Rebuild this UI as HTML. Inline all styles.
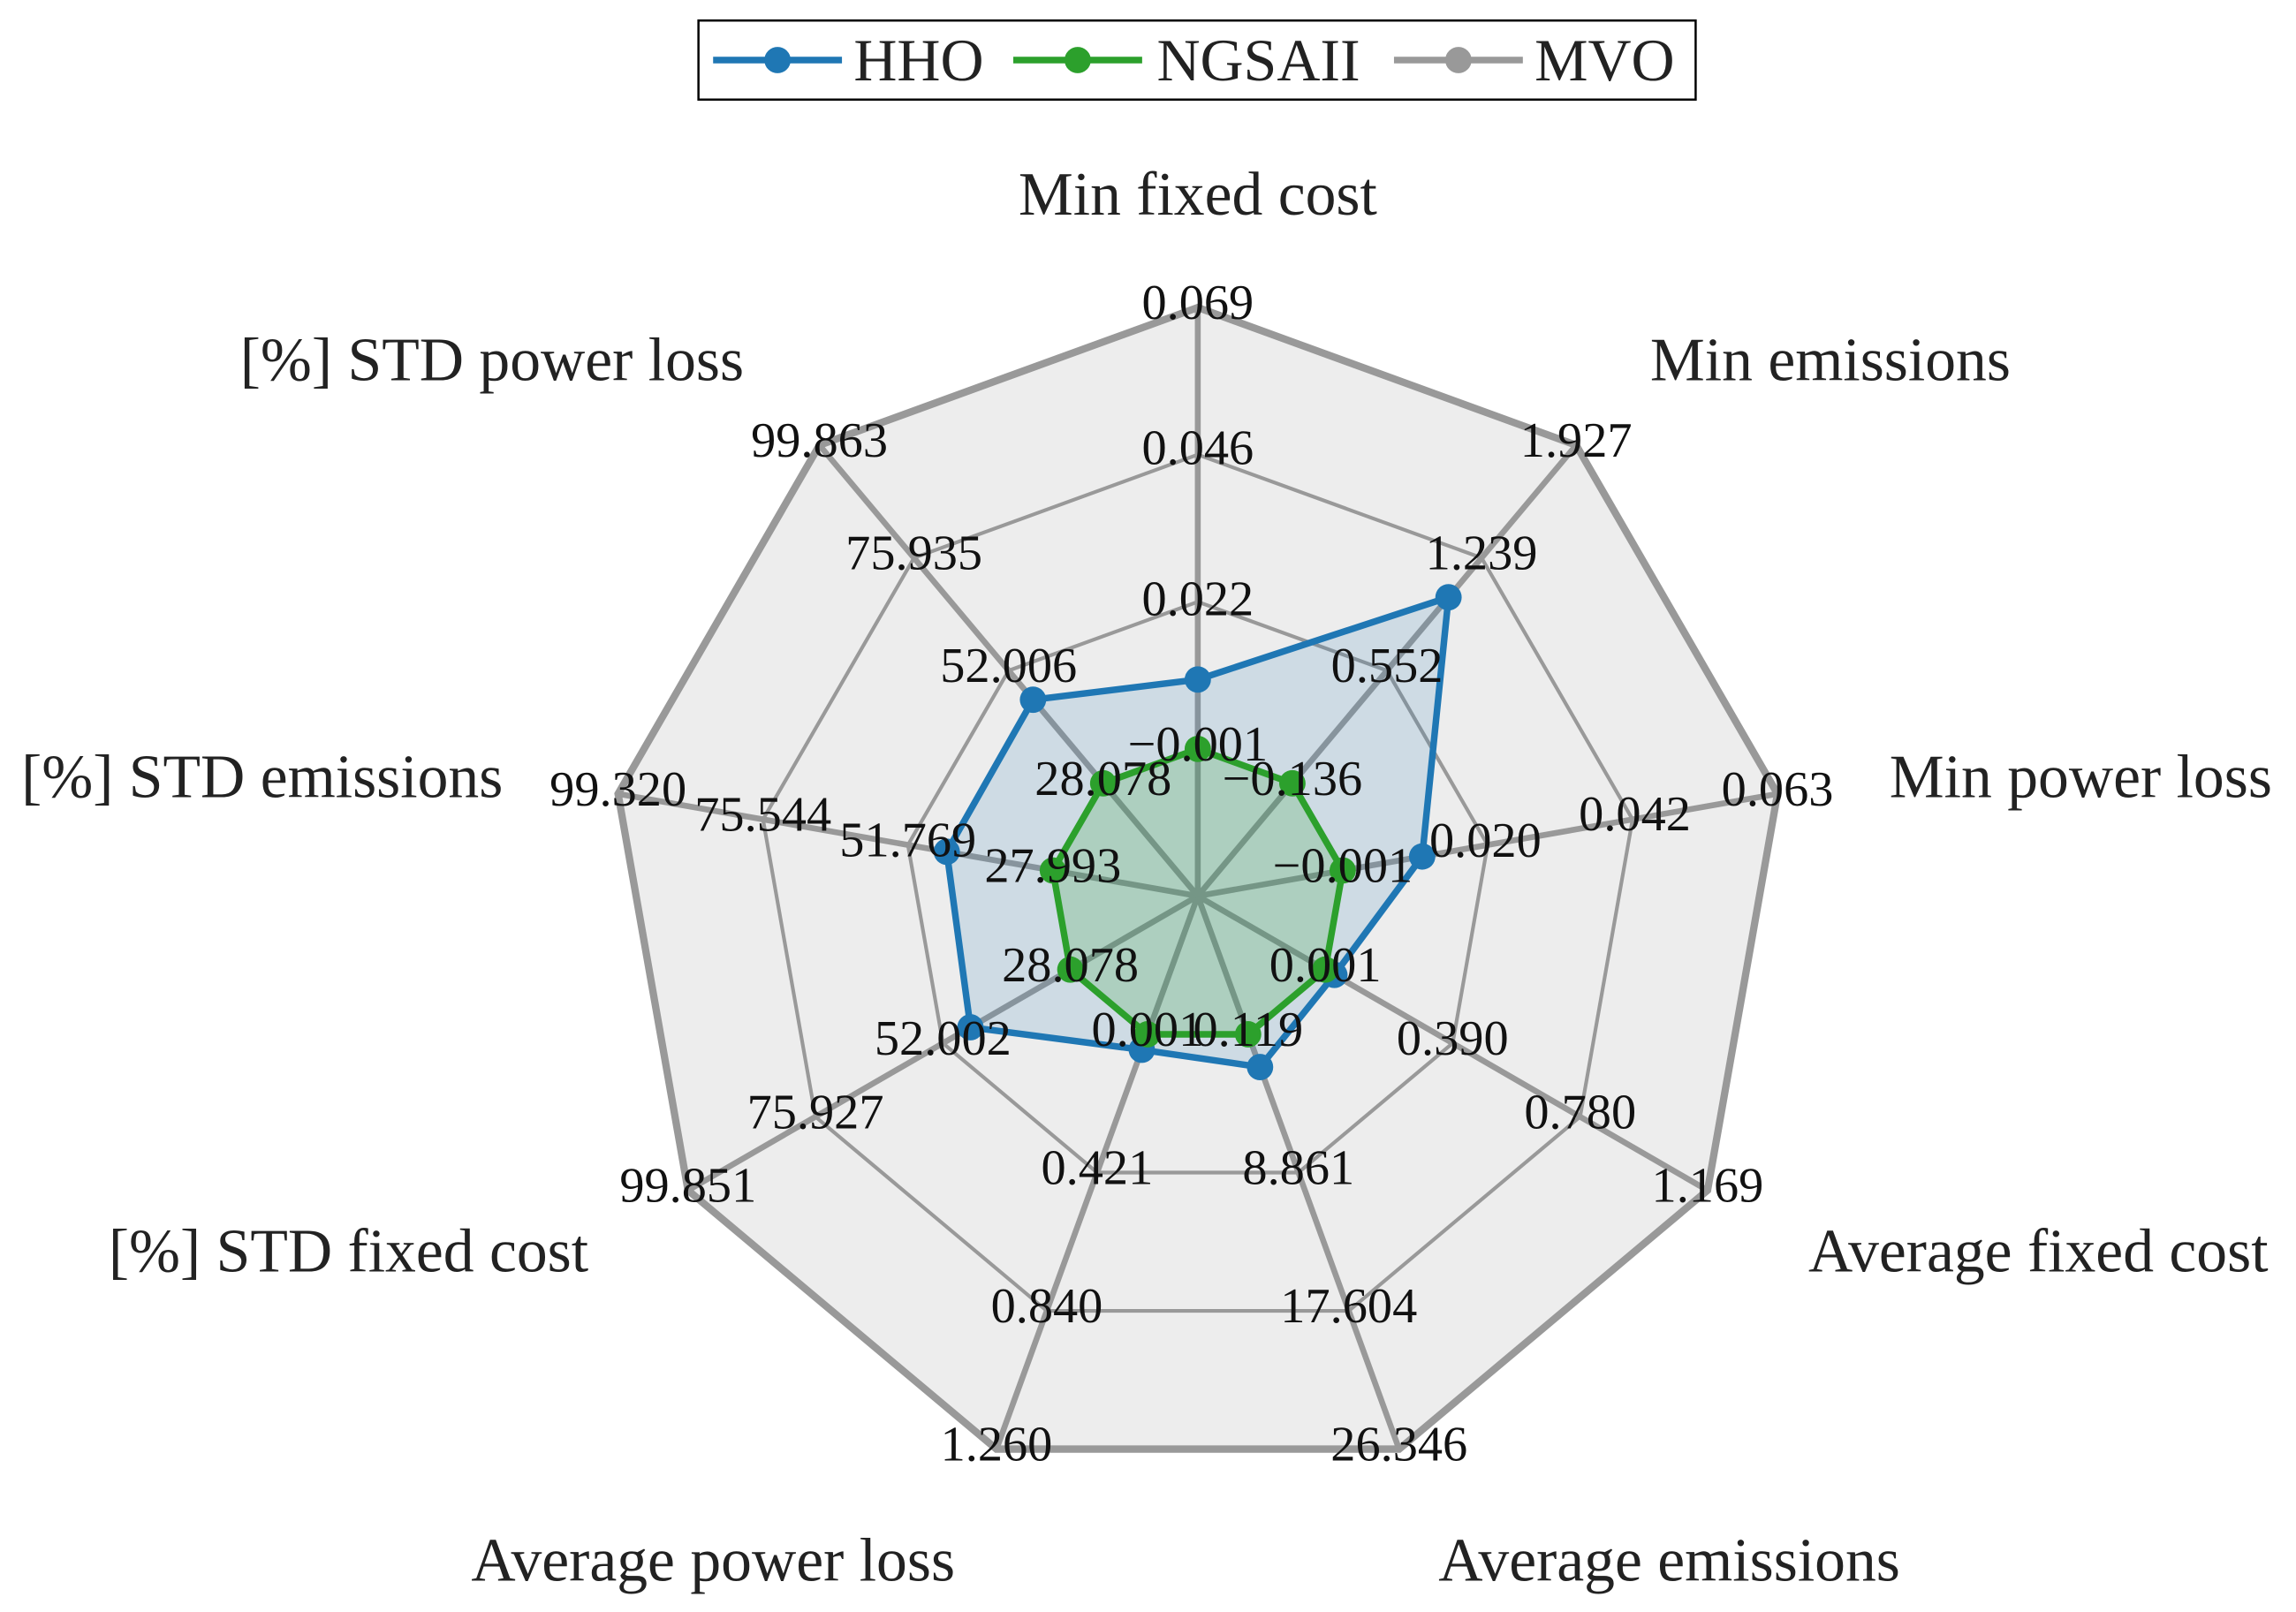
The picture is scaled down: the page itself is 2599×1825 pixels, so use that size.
<!DOCTYPE html>
<html><head><meta charset="utf-8"><style>
html,body{margin:0;padding:0;background:#fff;}
svg{display:block;font-family:"Liberation Serif",serif;}
</style></head><body>
<svg id="chart" width="2599" height="1825" viewBox="0 0 1568 1101" xmlns="http://www.w3.org/2000/svg">
<g id="grid"></g>
<g id="series"></g>
<g id="ticks"></g>
<g id="cats"></g>
<g>
 <rect x="477" y="14" width="681" height="54" fill="#fff" stroke="#000" stroke-width="1.5"/>
 <g>
  <line x1="487" y1="41" x2="575" y2="41" stroke="#1f77b4" stroke-width="4.5"/>
  <circle cx="531" cy="41" r="9" fill="#1f77b4"/>
  <text x="583" y="55" font-size="41" fill="#222">HHO</text></g>
 <g>
  <line x1="692" y1="41" x2="780" y2="41" stroke="#2ca02c" stroke-width="4.5"/>
  <circle cx="736" cy="41" r="9" fill="#2ca02c"/>
  <text x="790" y="55" font-size="41" fill="#222">NGSAII</text></g>
 <g>
  <line x1="952" y1="41" x2="1040" y2="41" stroke="#999" stroke-width="4.5"/>
  <circle cx="996" cy="41" r="9" fill="#999"/>
  <text x="1048" y="55" font-size="41" fill="#222">MVO</text></g>
</g>
</svg>
<script>
const categories=["Min fixed cost","Min emissions","Min power loss","Average fixed cost","Average emissions","Average power loss","[%] STD fixed cost","[%] STD emissions","[%] STD power loss"];
const tickLabels=[
 ["-0.001","0.022","0.046","0.069"],
 ["-0.136","0.552","1.239","1.927"],
 ["-0.001","0.020","0.042","0.063"],
 ["0.001","0.390","0.780","1.169"],
 ["0.119","8.861","17.604","26.346"],
 ["0.001","0.421","0.840","1.260"],
 ["28.078","52.002","75.927","99.851"],
 ["27.993","51.769","75.544","99.320"],
 ["28.078","52.006","75.935","99.863"]];
const hhoValues=[0.010,0.999,0.0107,0.029,2.19,0.048,46.83,45.4,45.83];
const ngsaiiValues=[-0.001,-0.136,-0.001,0.001,0.119,0.001,28.078,27.993,28.078];
const mvoValues=[0.069,1.927,0.063,1.169,26.346,1.260,99.851,99.320,99.863];

const NS="http://www.w3.org/2000/svg";
const CX=818,CY=612,R=402,N=categories.length;
function el(t,a,p){const e=document.createElementNS(NS,t);for(const k in a)e.setAttribute(k,a[k]);p.appendChild(e);return e;}
function ang(i){return i*2*Math.PI/N;}
function pt(i,r){return [CX+r*Math.sin(ang(i)),CY-r*Math.cos(ang(i))];}
function rScale(i,v){const t=tickLabels[i].map(Number);const step=(t[3]-t[0])/3;const vmin=t[0]-step;return (v-vmin)/(t[3]-vmin)*R;}

const grid=document.getElementById('grid');
const bg=el('polygon',{points:categories.map((c,i)=>pt(i,R).join(',')).join(' '),fill:'#ededed',stroke:'none'},grid);


for(let k=1;k<=4;k++){
 const ring=el('polygon',{points:categories.map((c,i)=>pt(i,R*k/4).join(',')).join(' '),fill:'none',stroke:'#999',"stroke-width":k==4?5:2.5},grid);
 
 
}
categories.forEach((c,i)=>{
 const p=pt(i,R);
 const s=el('line',{x1:CX,y1:CY,x2:p[0],y2:p[1],stroke:'#999',"stroke-width":4},grid);
 
 
});

const ser=document.getElementById('series');
function drawSeries(vals,color,fillOp,name,markers){
 const pts=vals.map((v,i)=>pt(i,rScale(i,v)));
 const poly=el('polygon',{points:pts.map(p=>p.join(',')).join(' '),fill:color,"fill-opacity":fillOp,stroke:color,"stroke-width":4.5,"stroke-linejoin":"round"},ser);
 
 
 if(markers)pts.forEach((p,i)=>{
  const m=el('circle',{cx:p[0],cy:p[1],r:9,fill:color},ser);
  
  
 });
}
drawSeries(mvoValues,'#999',0,'mvo',false);
drawSeries(hhoValues,'#1f77b4',0.15,'hho',true);
drawSeries(ngsaiiValues,'#2ca02c',0.2,'ngsaii',true);

const tk=document.getElementById('ticks');
tickLabels.forEach((arr,i)=>arr.forEach((lab,k)=>{
 const p=pt(i,rScale(i,Number(lab)));
 const t=el('text',{x:p[0],y:p[1]-3,"font-size":34,"text-anchor":"middle","dominant-baseline":"central",fill:'#111'},tk);
 t.textContent=lab.replace('-','\u2212');
 
 
}));

const catPos=[[818,133],[1250,246],[1421,531],[1392,855],[1140,1066],[487,1066],[238,855],[179,531],[336,246]];
const cg=document.getElementById('cats');
categories.forEach((c,i)=>{
 const t=el('text',{x:catPos[i][0],y:catPos[i][1],"font-size":42,"text-anchor":"middle","dominant-baseline":"central",fill:'#222'},cg);
 t.textContent=c;
 
 
});
</script>
</body></html>
